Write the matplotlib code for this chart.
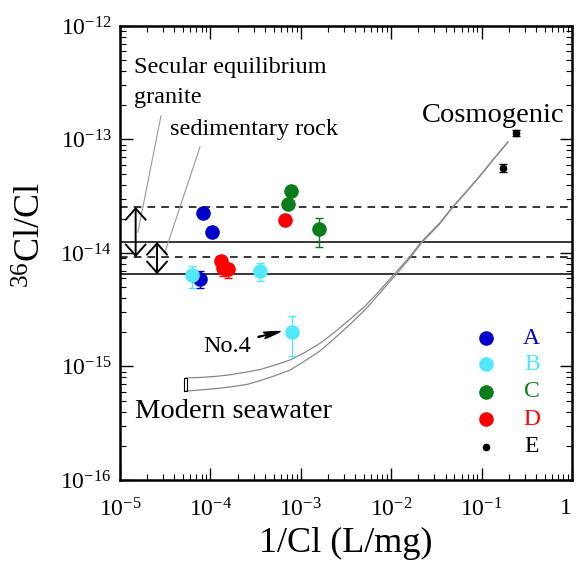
import matplotlib
matplotlib.use('Agg')
import matplotlib.pyplot as plt


plt.rcParams['font.family'] = ['Liberation Serif', 'DejaVu Serif']
plt.rcParams['mathtext.fontset'] = 'custom'
plt.rcParams['mathtext.rm'] = 'Liberation Serif'
plt.rcParams['mathtext.it'] = 'Liberation Serif:italic'
plt.rcParams['mathtext.default'] = 'rm'
plt.rcParams['axes.unicode_minus'] = False


# samples (1/Cl in L/mg, 36Cl/Cl ratio, error bar low/high)
a_x = [8.3e-5, 1.03e-4, 7.67e-5]
a_y = [2.24e-14, 1.54e-14, 5.86e-15]
a_lo = [2.24e-14, 1.54e-14, 4.89e-15]
a_hi = [2.24e-14, 1.54e-14, 6.9e-15]

b_x = [6.31e-5, 3.54e-4, 8.05e-4]
b_y = [6.4e-15, 6.93e-15, 2.03e-15]
b_lo = [4.89e-15, 5.66e-15, 1.24e-15]
b_hi = [7.68e-15, 8.1e-15, 2.78e-15]

c_x = [7.8e-4, 7.27e-4, 1.58e-3]
c_y = [3.52e-14, 2.7e-14, 1.62e-14]
c_lo = [3.52e-14, 2.7e-14, 1.13e-14]
c_hi = [3.52e-14, 2.7e-14, 2.05e-14]

d_x = [6.68e-4, 1.31e-4, 1.38e-4, 1.57e-4]
d_y = [1.95e-14, 8.51e-15, 7.38e-15, 7.23e-15]
d_lo = [1.95e-14, 8.51e-15, 6.3e-15, 6.05e-15]
d_hi = [1.95e-14, 8.51e-15, 7.38e-15, 7.23e-15]

e_x = [0.24, 0.171]
e_y = [1.15e-13, 5.65e-14]
e_lo = [1.08e-13, 5.2e-14]
e_hi = [1.22e-13, 6.1e-14]

groups = ['A', 'B', 'C', 'D', 'E']
colors = ['#0000cc', '#50e8fa', '#0a7d1a', '#ff0000', '#000000']

# reference ranges
granite_range = [2.54e-14, 9.2e-15]
sedimentary_range = [1.25e-14, 6.5e-15]

# mixing lines seawater -> cosmogenic
mix_x = [5.37e-5, 7.67e-5, 1.18e-4, 1.65e-4, 2.54e-4, 3.54e-4, 5.19e-4, 7.6e-4, 1.11e-3, 1.63e-3,
	2.27e-3, 3.5e-3, 5.13e-3, 7.52e-3, 1.10e-2, 1.61e-2, 2.17e-2, 3.47e-2, 4.79e-2, 6.72e-2,
	9.6e-2, 0.137, 0.196]
mix_upper_y = [7.93e-16, 8.0e-16, 8.2e-16, 8.45e-16, 8.95e-16, 9.4e-16, 1.03e-15, 1.14e-15, 1.33e-15, 1.6e-15,
	1.95e-15, 2.6e-15, 3.4e-15, 4.7e-15, 6.6e-15, 9.3e-15, 1.26e-14, 1.85e-14, 2.55e-14, 3.45e-14,
	4.8e-14, 6.8e-14, 9.5e-14]
mix_lower_y = [6.08e-16, 6.2e-16, 6.4e-16, 6.6e-16, 6.95e-16, 7.5e-16, 8.3e-16, 9.3e-16, 1.12e-15, 1.37e-15,
	1.72e-15, 2.35e-15, 3.15e-15, 4.45e-15, 6.3e-15, 9.0e-15, 1.23e-14, 1.82e-14, 2.52e-14, 3.42e-14,
	4.75e-14, 6.75e-14, 9.5e-14]
seawater_x = [5.14e-5, 5.45e-5]
seawater_y = [6.08e-16, 7.93e-16]

x_ticks = [1e-5, 1e-4, 1e-3, 1e-2, 1e-1, 1]
x_tick_labels = ['$10^{-5}$', '$10^{-4}$', '$10^{-3}$', '$10^{-2}$', '$10^{-1}$', '1']
y_ticks = [1e-16, 1e-15, 1e-14, 1e-13, 1e-12]
y_tick_labels = ['$10^{-16}$', '$10^{-15}$', '$10^{-14}$', '$10^{-13}$', '$10^{-12}$']


fig = plt.figure(figsize = (5.76, 5.61), dpi = 100)
ax = fig.add_axes([0.2083, 0.1444, 0.7847, 0.8093])
ax.set_xscale('log')
ax.set_yscale('log')
ax.set_xlim(1e-5, 1)
ax.set_ylim(1e-16, 1e-12)

for y in granite_range:
	ax.axhline(y, color = 'black', lw = 1.1, ls = (0, (5, 4)), zorder = 1)
for y in sedimentary_range:
	ax.axhline(y, color = 'black', lw = 1.1, zorder = 1)

ax.plot(mix_x, mix_upper_y, color = '#888888', lw = 0.9, zorder = 1)
ax.plot(mix_x, mix_lower_y, color = '#888888', lw = 0.9, zorder = 1)
ax.plot([seawater_x[0], seawater_x[1], seawater_x[1], seawater_x[0], seawater_x[0]],
	[seawater_y[0], seawater_y[0], seawater_y[1], seawater_y[1], seawater_y[0]],
	color = 'black', lw = 0.8, zorder = 1)

# double arrows for the ranges
arrow_style = '<->,head_length=0.45,head_width=0.4'
ax.annotate('', xy = (1.49e-5, granite_range[0]), xytext = (1.49e-5, granite_range[1]),
	arrowprops = dict(arrowstyle = arrow_style, lw = 1.4,
		color = 'black', shrinkA = 0, shrinkB = 0, mutation_scale = 18))
ax.annotate('', xy = (2.57e-5, sedimentary_range[0]), xytext = (2.57e-5, sedimentary_range[1]),
	arrowprops = dict(arrowstyle = arrow_style, lw = 1.4,
		color = 'black', shrinkA = 0, shrinkB = 0, mutation_scale = 18))

# leader lines for labels
ax.plot([2.84e-5, 1.58e-5], [1.61e-13, 1.53e-14], color = '#999999', lw = 0.8)
ax.plot([7.67e-5, 3.15e-5], [8.59e-14, 1.02e-14], color = '#999999', lw = 0.8)

data = [
	(a_x, a_y, a_lo, a_hi, 10.5),
	(b_x, b_y, b_lo, b_hi, 10.5),
	(c_x, c_y, c_lo, c_hi, 10.5),
	(d_x, d_y, d_lo, d_hi, 10.5),
	(e_x, e_y, e_lo, e_hi, 5.5),
]
for (xs, ys, lo, hi, ms), col in zip(data, colors):
	yerr = [[y - l for y, l in zip(ys, lo)], [h - y for y, h in zip(ys, hi)]]
	ax.errorbar(xs, ys, yerr = yerr, fmt = 'none', ecolor = col, elinewidth = 1.0,
		capsize = 3, capthick = 1.0, zorder = 2)
	ax.plot(xs, ys, 'o', color = col, ms = ms, mec = 'none', zorder = 3)

# legend drawn by hand
leg_y = [0.312, 0.255, 0.1945, 0.134, 0.073]
for g, col, ly, ms in zip(groups, colors, leg_y, [10.5, 10.5, 10.5, 10.5, 5.5]):
	ax.plot([0.809], [ly], 'o', color = col, ms = ms, mec = 'none', transform = ax.transAxes)
	ax.text(0.911, ly, g, color = col, fontsize = 17, ha = 'center', va = 'center',
		transform = ax.transAxes)

ax.text(1.43e-5, 3.83e-13, 'Secular equilibrium', fontsize = 17.5, va = 'baseline')
ax.text(1.43e-5, 2.08e-13, 'granite', fontsize = 17.5, va = 'baseline')
ax.text(3.57e-5, 1.10e-13, 'sedimentary rock', fontsize = 17.5, va = 'baseline')
ax.text(2.17e-2, 1.43e-13, 'Cosmogenic', fontsize = 20.5, va = 'baseline')
ax.text(1.47e-5, 3.5e-16, 'Modern seawater', fontsize = 20.5, va = 'baseline')
ax.text(8.28e-5, 1.35e-15, 'No.4', fontsize = 17.5, va = 'baseline')
ax.annotate('', xy = (5.89e-4, 2.03e-15), xytext = (3.37e-4, 1.82e-15),
	arrowprops = dict(arrowstyle = 'fancy,head_length=0.9,head_width=0.35,tail_width=0.06',
		color = 'black', shrinkA = 0, shrinkB = 0, mutation_scale = 13))

ax.set_xticks(x_ticks, x_tick_labels)
ax.set_yticks(y_ticks, y_tick_labels)
ax.get_xticklabels()[-1].set_horizontalalignment('right')
ax.tick_params(which = 'both', direction = 'in', top = True, right = True, labelsize = 17)
ax.tick_params(which = 'major', length = 9, width = 1.0)
ax.tick_params(which = 'minor', length = 4.5, width = 0.8)
ax.tick_params(axis = 'x', pad = 13)
ax.tick_params(axis = 'y', pad = 6)
for s in ax.spines.values():
	s.set_linewidth(1.8)

ax.set_xlabel('1/Cl (L/mg)', fontsize = 26, labelpad = 4)
ax.set_ylabel('$^{36}$Cl/Cl', fontsize = 26)
ax.yaxis.set_label_coords(-0.157, 0.54)

fig.savefig('out.png', dpi = 100)
